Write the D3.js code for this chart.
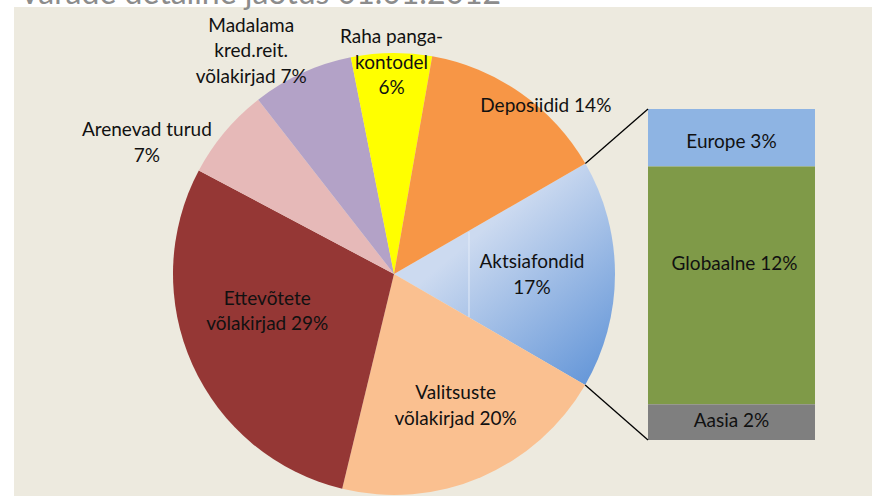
<!DOCTYPE html>
<html>
<head>
<meta charset="utf-8">
<script src="https://cdn.jsdelivr.net/npm/d3@7"></script>
<style>
  html, body { margin: 0; padding: 0; background: #ffffff; }
  svg { display: block; font-family: Lato, "Open Sans", sans-serif; }
</style>
</head>
<body>
<svg id="chart"></svg>
<script>
"use strict";

// =================== DATA ===================
const sliceNames = [
  ["Aktsiafondid", "17%"],
  ["Valitsuste", "võlakirjad 20%"],
  ["Ettevõtete", "võlakirjad 29%"],
  ["Arenevad turud", "7%"],
  ["Madalama", "kred.reit.", "võlakirjad 7%"],
  ["Raha panga-", "kontodel", "6%"],
  ["Deposiidid 14%"]
];
const sliceValues = [16.7, 20.4, 29.0, 6.7, 7.4, 5.9, 13.9];
const sliceColors = ["url(#aktsiaGrad)", "#FAC090", "#953735", "#E6B9B8", "#B3A2C7", "#FFFF00", "#F79646"];

const barNames = ["Europe 3%", "Globaalne 12%", "Aasia 2%"];
const barValues = [2.9, 12.0, 1.8];
const barColors = ["#8EB4E3", "#7F9A48", "#7F7F7F"];

const title = "Varade detailne jaotus 01.01.2012";

// =================== SETUP ===================
const W = 872, H = 497;
const cx = 394, cy = 274, R = 221;
const startDeg = 60;
const bar = { x: 648, w: 167, top: 109, bottom: 440 };

const svg = d3.select("#chart").attr("width", W).attr("height", H);

// gradient for the split slice (coords relative to pie centre)
const defs = svg.append("defs");
const grad = defs.append("linearGradient")
  .attr("id", "aktsiaGrad")
  .attr("gradientUnits", "userSpaceOnUse")
  .attr("x1", 78).attr("y1", -35)
  .attr("x2", 200).attr("y2", 110);
grad.append("stop").attr("offset", "0").attr("stop-color", "#CCDAF0");
grad.append("stop").attr("offset", "1").attr("stop-color", "#6496D8");

// plot area background
svg.append("rect")
  .attr("x", 14).attr("y", 7)
  .attr("width", W - 14).attr("height", H - 8)
  .attr("fill", "#EDEADF");

// title (mostly above the visible area, as in the source)
svg.append("text")
  .attr("x", 19).attr("y", 4)
  .attr("fill", "#8C8C8C")
  .style("font-size", "32px")
  .text(title);

// =================== PIE ===================
const rad = d => d * Math.PI / 180;
const pie = d3.pie().sort(null)
  .startAngle(rad(startDeg))
  .endAngle(rad(startDeg) + 2 * Math.PI);
const arcs = pie(sliceValues);
const arc = d3.arc().innerRadius(0).outerRadius(R);

const g = svg.append("g").attr("transform", `translate(${cx},${cy})`);
g.selectAll("path.slice")
  .data(arcs)
  .enter()
  .append("path")
  .attr("class", "slice")
  .attr("d", arc)
  .attr("fill", (d, i) => sliceColors[i]);

// faint seam inside the gradient slice
g.append("line")
  .attr("x1", 75).attr("y1", -42)
  .attr("x2", 75).attr("y2", 43)
  .attr("stroke", "#E4ECF8").attr("stroke-width", 1);

// label placement: radius and angle nudge (deg) per slice
const labelPlace = [
  { r: 138, da: 0 },
  { r: 145, da: -2 },
  { r: 132, da: 8 },
  { r: 280, da: -12 },
  { r: 265, da: -8 },
  { r: 212, da: 0 },
  { r: 227, da: 7 }
];
const lineH = 25.5;

arcs.forEach((d, i) => {
  const a = (d.startAngle + d.endAngle) / 2 + rad(labelPlace[i].da);
  const lx = labelPlace[i].r * Math.sin(a);
  const ly = -labelPlace[i].r * Math.cos(a);
  const lines = sliceNames[i];
  const t = g.append("text")
    .attr("text-anchor", "middle")
    .attr("fill", "#111")
    .style("font-size", "19px");
  lines.forEach((ln, j) => {
    t.append("tspan")
      .attr("x", lx)
      .attr("y", ly + (j - (lines.length - 1) / 2) * lineH)
      .attr("dy", "0.35em")
      .text(ln);
  });
});

// =================== BAR OF PIE ===================
const barTotal = d3.sum(barValues);
const yBar = d3.scaleLinear().domain([0, barTotal]).range([bar.top, bar.bottom]);
let acc = 0;
const stack = barValues.map(v => { const s = { y0: acc, y1: acc + v }; acc += v; return s; });

svg.selectAll("rect.seg")
  .data(stack)
  .enter()
  .append("rect")
  .attr("class", "seg")
  .attr("x", bar.x)
  .attr("width", bar.w)
  .attr("y", d => yBar(d.y0))
  .attr("height", d => yBar(d.y1) - yBar(d.y0))
  .attr("fill", (d, i) => barColors[i]);

const barLabelNudge = [{ dx: 0, dy: 4 }, { dx: 3, dy: -22 }, { dx: 0, dy: -2 }];
svg.selectAll("text.seg")
  .data(stack)
  .enter()
  .append("text")
  .attr("class", "seg")
  .attr("text-anchor", "middle")
  .attr("dy", "0.35em")
  .attr("x", (d, i) => bar.x + bar.w / 2 + barLabelNudge[i].dx)
  .attr("y", (d, i) => yBar((d.y0 + d.y1) / 2) + barLabelNudge[i].dy)
  .attr("fill", "#111")
  .style("font-size", "19px")
  .text((d, i) => barNames[i]);

// connector lines from the split slice to the bar
const split = arcs[0];
const edge = a => [cx + R * Math.sin(a), cy - R * Math.cos(a)];
const p0 = edge(split.startAngle), p1 = edge(split.endAngle);
svg.append("line")
  .attr("x1", p0[0]).attr("y1", p0[1])
  .attr("x2", bar.x).attr("y2", yBar(0))
  .attr("stroke", "#000").attr("stroke-width", 1.3);
svg.append("line")
  .attr("x1", p1[0]).attr("y1", p1[1])
  .attr("x2", bar.x).attr("y2", yBar(barTotal))
  .attr("stroke", "#000").attr("stroke-width", 1.3);
</script>
</body>
</html>
